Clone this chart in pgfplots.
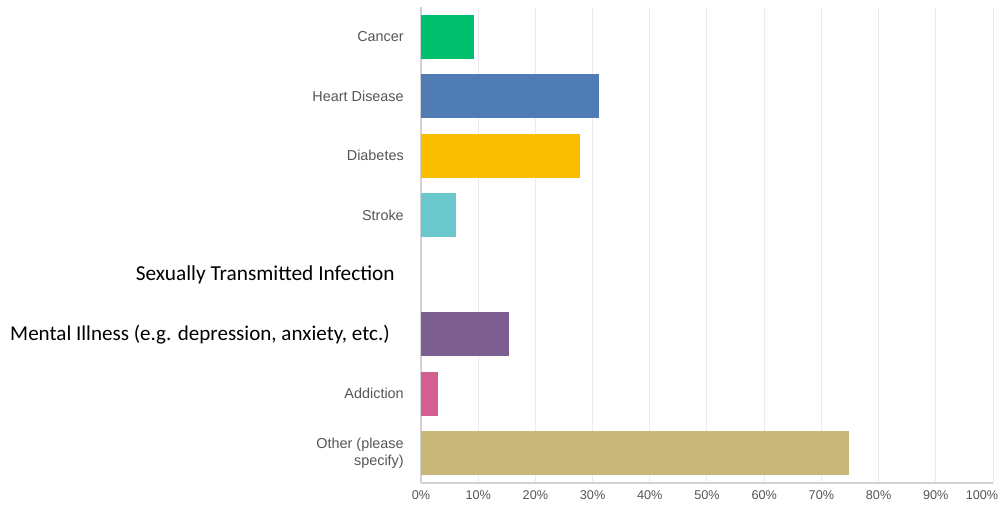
\documentclass[border=0pt]{standalone}
\usepackage{pgfplots}
\pgfplotsset{compat=1.18}
\usepackage{fontspec}
\setmainfont{Liberation Sans}
\newfontfamily\calibri{Carlito}
\definecolor{cCancer}{HTML}{00BF6F}
\definecolor{cHeart}{HTML}{507CB6}
\definecolor{cDiab}{HTML}{F9BE00}
\definecolor{cStroke}{HTML}{6BC8CD}
\definecolor{cMental}{HTML}{7D5E90}
\definecolor{cAddict}{HTML}{D25F90}
\definecolor{cOther}{HTML}{C7B879}
\definecolor{gridc}{HTML}{EBEBEB}
\definecolor{axisc}{HTML}{D2D2D2}
\definecolor{labc}{HTML}{555555}
\begin{document}
\begin{tikzpicture}
\begin{axis}[
  name=ax,
  width=429pt, height=357pt, scale only axis,
  xmin=0, xmax=100, ymin=-0.5, ymax=7.5, y dir=reverse,
  xbar, bar width=33pt, bar shift=0pt,
  axis x line*=bottom, axis y line*=left,
  axis line style={axisc, line width=0.9pt},
  xtick={0,10,...,100},
  xticklabels={0\%,10\%,20\%,30\%,40\%,50\%,60\%,70\%,80\%,90\%,{\kern-16.5pt100\%}},
  ytick={0,...,7},
  yticklabels={Cancer, Heart Disease, Diabetes, Stroke,
    {\calibri\fontsize{16}{19}\selectfont\color{black}Sexually Transmitted Infection\kern6.75pt},
    {\calibri\fontsize{15.8}{19}\selectfont\color{black}Mental Illness (e.g. depression, anxiety, etc.)\kern10.5pt},
    Addiction, {Other (please\\specify)}},
  major tick length=0pt,
  xmajorgrids, grid style={gridc, line width=0.75pt},
  tick label style={labc},
  xticklabel style={font=\fontsize{9.5}{11}\selectfont, inner ysep=0pt, inner xsep=0pt, yshift=-5.25pt},
  yticklabel style={font=\fontsize{10.8}{13}\selectfont, inner xsep=0pt, xshift=-12.75pt, align=right},
  every axis plot/.append style={draw=none},
]
\addplot[fill=cCancer] coordinates {(9.2,0)};
\addplot[fill=cHeart] coordinates {(31.1,1)};
\addplot[fill=cDiab] coordinates {(27.8,2)};
\addplot[fill=cStroke] coordinates {(6.1,3)};
\addplot[fill=cMental] coordinates {(15.4,5)};
\addplot[fill=cAddict] coordinates {(3.0,6)};
\addplot[fill=cOther] coordinates {(74.8,7)};
\end{axis}
\pgfresetboundingbox
\path[use as bounding box] ([shift={(-315.75pt,-21.75pt)}]ax.south west) rectangle ([shift={(7.5pt,5.25pt)}]ax.north east);
\end{tikzpicture}
\end{document}
